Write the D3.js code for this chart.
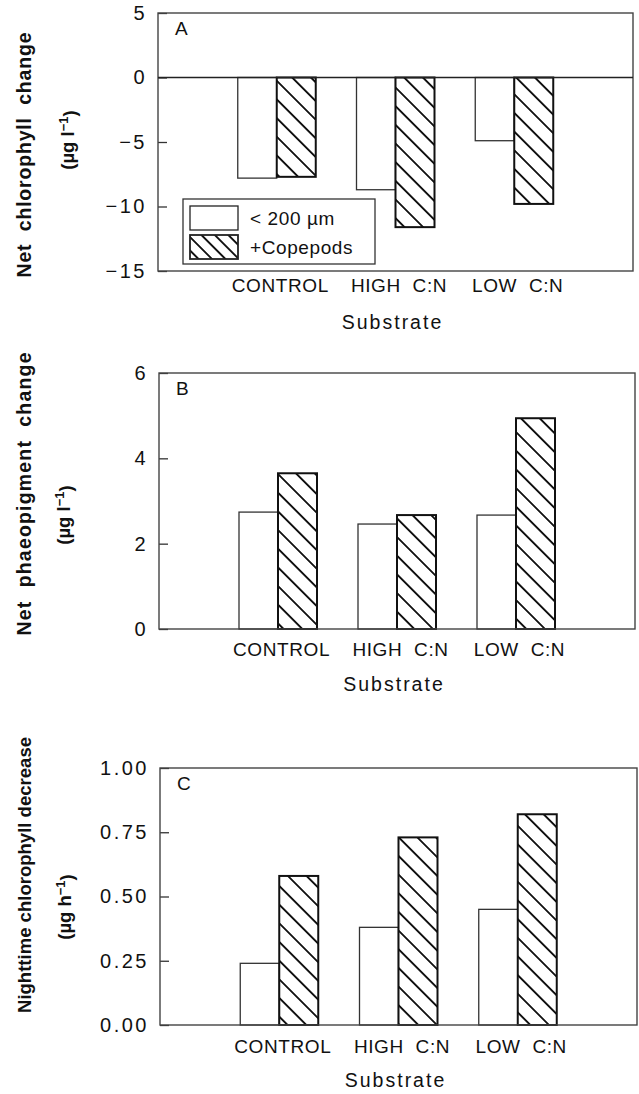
<!DOCTYPE html>
<html>
<head>
<meta charset="utf-8">
<script src="https://cdn.jsdelivr.net/npm/d3@7"></script>
<style>
  body { margin: 0; background: #fff; }
  svg { display: block; font-family: 'Liberation Sans', Arial, sans-serif; }
</style>
</head>
<body>
<div id="figure"></div>
<script>
const categories = ['CONTROL', 'HIGH  C:N', 'LOW  C:N'];
const seriesNames = ['< 200 µm', '+Copepods'];

const chlOpen = [-7.8, -8.7, -4.9];
const chlCopepods = [-7.7, -11.6, -9.8];
const chlTicks = [5, 0, -5, -10, -15];

const phaeoOpen = [2.74, 2.46, 2.67];
const phaeoCopepods = [3.65, 2.67, 4.94];
const phaeoTicks = [0, 2, 4, 6];

const nightOpen = [0.24, 0.38, 0.45];
const nightCopepods = [0.58, 0.73, 0.82];
const nightTicks = [0, 0.25, 0.5, 0.75, 1];

const chart = {
  width: 639,
  height: 1094,
  barWidth: 39,

  init() {
    this.svg = d3.select('#figure').append('svg')
      .attr('width', this.width)
      .attr('height', this.height);
    this.createPatterns();

    this.drawPanel({
      letter: 'A', box: [158, 633, 13, 271], domain: [-15, 5], ticks: chlTicks,
      format: (d) => (d < 0 ? '\u2212' + Math.abs(d) : String(d)),
      open: chlOpen, copepods: chlCopepods,
      title: 'Net  chlorophyll  change', titleY: 155, titleLen: 245, titleSize: 19.5,
      unit: 'l', unitX: 67, unitY: 140, catPad: 8, subY: 322, legend: true
    });
    this.drawPanel({
      letter: 'B', box: [159, 635, 373, 629], domain: [0, 6], ticks: phaeoTicks,
      format: d3.format('d'),
      open: phaeoOpen, copepods: phaeoCopepods,
      title: 'Net  phaeopigment  change', titleY: 494, titleLen: 283, titleSize: 19.5,
      unit: 'l', unitX: 63, unitY: 515, catPad: 14, subY: 684
    });
    this.drawPanel({
      letter: 'C', box: [160, 637, 768, 1025], domain: [0, 1], ticks: nightTicks,
      format: d3.format('.2f'),
      open: nightOpen, copepods: nightCopepods,
      title: 'Nighttime chlorophyll decrease', titleY: 875, titleLen: 276, titleSize: 18.5,
      unit: 'h', unitX: 64, unitY: 907, catPad: 15, subY: 1080
    });
  },

  createPatterns() {
    const defs = this.svg.append('defs');
    [['hatch', 13.2], ['hatchLegend', 9.5]].forEach(([id, size]) => {
      const p = defs.append('pattern')
        .attr('id', id)
        .attr('patternUnits', 'userSpaceOnUse')
        .attr('width', size)
        .attr('height', size)
        .attr('patternTransform', 'rotate(-45)');
      p.append('rect').attr('width', size).attr('height', size).attr('fill', '#fff');
      p.append('line')
        .attr('x1', size / 2).attr('x2', size / 2)
        .attr('y1', 0).attr('y2', size)
        .attr('stroke', '#111')
        .attr('stroke-width', 1.9);
    });
  },

  drawPanel(cfg) {
    const [left, right, top, bottom] = cfg.box;
    const g = this.svg.append('g');

    const x = d3.scalePoint().domain(categories).range([left, right]).padding(1);
    const xs = d3.scaleBand().domain(seriesNames).range([-this.barWidth, this.barWidth]);
    const y = d3.scaleLinear().domain(cfg.domain).range([bottom, top]);

    // y axis, ticks pointing inward
    const yAxis = g.append('g')
      .attr('transform', `translate(${left},0)`)
      .call(d3.axisLeft(y).tickValues(cfg.ticks).tickFormat(cfg.format)
        .tickSizeInner(-9).tickSizeOuter(0).tickPadding(11));
    yAxis.select('.domain').remove();
    yAxis.selectAll('line').attr('stroke', '#333').attr('stroke-width', 1.3);
    yAxis.selectAll('text')
      .attr('font-size', 20)
      .attr('letter-spacing', 2.5)
      .attr('fill', '#111');

    const rows = categories.map((c, i) => ({ c, open: cfg.open[i], copepods: cfg.copepods[i] }));

    // bars
    const bars = g.append('g');
    rows.forEach((r) => {
      [['< 200 µm', r.open], ['+Copepods', r.copepods]].forEach(([s, v]) => {
        const hatched = s === '+Copepods';
        bars.append('rect')
          .attr('x', x(r.c) + xs(s))
          .attr('y', Math.min(y(v), y(0)))
          .attr('width', xs.bandwidth())
          .attr('height', Math.abs(y(v) - y(0)))
          .attr('fill', hatched ? 'url(#hatch)' : '#fff')
          .attr('stroke', hatched ? '#111' : '#333')
          .attr('stroke-width', hatched ? 2 : 1.3);
      });
    });

    // frame and zero line
    g.append('rect')
      .attr('x', left).attr('y', top)
      .attr('width', right - left).attr('height', bottom - top)
      .attr('fill', 'none').attr('stroke', '#444').attr('stroke-width', 1.4);
    if (cfg.domain[0] < 0) {
      g.append('line')
        .attr('x1', left).attr('x2', right)
        .attr('y1', y(0)).attr('y2', y(0))
        .attr('stroke', '#222').attr('stroke-width', 1.5);
    }

    // categories
    const xAxis = g.append('g')
      .attr('transform', `translate(3,${bottom})`)
      .call(d3.axisBottom(x).tickSize(0).tickPadding(cfg.catPad));
    xAxis.select('.domain').remove();
    xAxis.selectAll('text')
      .attr('font-size', 19)
      .attr('letter-spacing', 0.6)
      .attr('fill', '#111')
      .style('white-space', 'pre');

    g.append('text')
      .attr('x', (left + right) / 2 - 3)
      .attr('y', cfg.subY)
      .attr('dy', '0.35em')
      .attr('text-anchor', 'middle')
      .attr('font-size', 19.5)
      .attr('letter-spacing', 2)
      .attr('fill', '#111')
      .text('Substrate');

    g.append('text')
      .attr('x', left + 17)
      .attr('y', top + 15)
      .attr('dy', '0.35em')
      .attr('font-size', 19)
      .attr('fill', '#111')
      .text(cfg.letter);

    // y titles
    g.append('text')
      .attr('transform', `translate(24,${cfg.titleY}) rotate(-90)`)
      .attr('dy', '0.36em')
      .attr('text-anchor', 'middle')
      .attr('font-size', cfg.titleSize)
      .attr('font-weight', 'bold')
      .attr('fill', '#111')
      .attr('textLength', cfg.titleLen)
      .attr('lengthAdjust', 'spacing')
      .style('white-space', 'pre')
      .text(cfg.title);

    const unit = g.append('text')
      .attr('transform', `translate(${cfg.unitX},${cfg.unitY}) rotate(-90)`)
      .attr('dy', '0.36em')
      .attr('text-anchor', 'middle')
      .attr('font-size', 18.5)
      .attr('font-weight', 'bold')
      .attr('fill', '#111')
      .style('white-space', 'pre');
    unit.append('tspan').text(`(µg ${cfg.unit}`);
    unit.append('tspan').attr('dy', '-0.45em').attr('font-size', 13).text('\u22121');
    unit.append('tspan').attr('dy', '0.45em').text(')');

    if (cfg.legend) this.drawLegend(g);
  },

  drawLegend(g) {
    g.append('rect')
      .attr('x', 183).attr('y', 199).attr('width', 192).attr('height', 65)
      .attr('fill', '#fff').attr('stroke', '#333').attr('stroke-width', 1.3);
    seriesNames.forEach((s, i) => {
      const top = 206 + i * 29;
      g.append('rect')
        .attr('x', 190).attr('y', top).attr('width', 48).attr('height', 24)
        .attr('fill', i ? 'url(#hatchLegend)' : '#fff')
        .attr('stroke', '#222').attr('stroke-width', i ? 1.8 : 1.3);
      g.append('text')
        .attr('x', 250).attr('y', top + 12)
        .attr('dy', '0.35em')
        .attr('font-size', 19)
        .attr('letter-spacing', 0.6)
        .attr('fill', '#111')
        .text(s);
    });
  }
};

chart.init();
</script>
</body>
</html>
